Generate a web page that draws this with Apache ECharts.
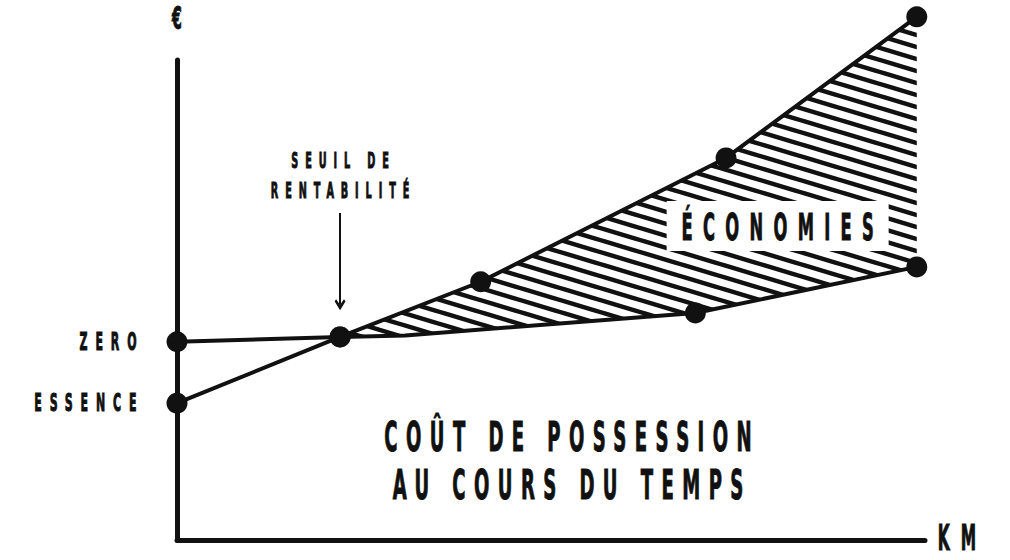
<!DOCTYPE html>
<html>
<head>
<meta charset="utf-8">
<script src="https://cdn.jsdelivr.net/npm/echarts@6/dist/echarts.min.js"></script>
<style>
html, body { margin: 0; padding: 0; background: #fff; }
#chart { width: 1010px; height: 560px; }
#chart svg text { stroke: #111; stroke-width: 1px; }
</style>
</head>
<body>
<div id="chart"></div>
<script>
// valeurs (x : km 0-100, y : € 0-100)
var seriesNames = ['ZERO', 'ESSENCE'];
var zeroX = [0, 21.8, 30.5, 69.3, 98.9];
var zeroY = [41.3, 42.3, 42.6, 47.3, 56.9];
var zeroDots = [true, true, false, true, true];
var essenceX = [0, 21.8, 40.6, 73.4, 98.9];
var essenceY = [28.5, 42.3, 53.8, 79.6, 109];
var seuilX = 21.8, seuilTop = 68.1, seuilEnd = 49.0;
var ecoPos = [80.3, 65.4];
var axisNames = ['KM', '€'];
var seuilText = 'SEUIL DE\nRENTABILITÉ';
var titleText = 'COÛT DE POSSESSION\nAU COURS DU TEMPS';
var ecoText = 'ÉCONOMIES';

var INK = '#111';
var FONT = "'Liberation Sans Narrow', 'DejaVu Sans Condensed', Roboto, sans-serif";
var SQUEEZE = 0.49;

// hachures
var hatch = document.createElement('canvas');
hatch.width = 40; hatch.height = 12;
(function () {
    var ctx = hatch.getContext('2d');
    ctx.strokeStyle = INK;
    ctx.lineWidth = 4.5;
    for (var k = -1; k <= 1; k++) {
        ctx.beginPath();
        ctx.moveTo(-4, k * 12 - 1.2);
        ctx.lineTo(44, k * 12 + 13.2);
        ctx.stroke();
    }
})();

function lineData(xs, ys, dots) {
    return xs.map(function (x, i) {
        var item = { value: [x, ys[i]] };
        if (dots && !dots[i]) item.symbol = 'none';
        if (i === 0) item.label = { show: true };
        return item;
    });
}

var chart = echarts.init(document.getElementById('chart'), null, { renderer: 'svg' });

var labelStyle = {
    show: false,
    position: 'left',
    distance: 30,
    formatter: '{a}',
    color: INK,
    fontFamily: FONT,
    fontWeight: 'bold',
    fontSize: 25
};

var option = {
    animation: false,
    backgroundColor: '#fff',
    grid: { left: 177, right: 85, top: 60, bottom: 20, outerBoundsMode: 'none' },
    xAxis: {
        type: 'value', min: 0, max: 100,
        name: axisNames[0], nameLocation: 'end', nameGap: 51,
        nameTextStyle: {
            color: INK, fontFamily: FONT, fontWeight: 'bold', fontSize: 35,
            lineHeight: 6, align: 'right', verticalAlign: 'bottom'
        },
        axisLine: { lineStyle: { color: INK, width: 5 } },
        axisTick: { show: false }, axisLabel: { show: false }, splitLine: { show: false }
    },
    yAxis: {
        type: 'value', min: 0, max: 100,
        name: axisNames[1], nameLocation: 'end', nameGap: 26,
        nameTextStyle: { color: INK, fontFamily: FONT, fontWeight: 'bold', fontSize: 32, align: 'center' },
        axisLine: { lineStyle: { color: INK, width: 5, cap: 'round' } },
        axisTick: { show: false }, axisLabel: { show: false }, splitLine: { show: false }
    },
    graphic: [{
        type: 'text', x: 568, y: 461, z: 10,
        style: {
            text: titleText, fill: INK,
            font: 'bold 41px ' + FONT, lineHeight: 48,
            align: 'center', verticalAlign: 'middle'
        }
    }],
    series: [{
        type: 'custom',
        z: 1,
        clip: false,
        silent: true,
        data: [[0, 0]],
        renderItem: function (params, api) {
            var pts = [], i;
            for (i = 1; i < essenceX.length; i++) pts.push(api.coord([essenceX[i], essenceY[i]]));
            for (i = zeroX.length - 1; i >= 1; i--) pts.push(api.coord([zeroX[i], zeroY[i]]));
            var c = api.coord(ecoPos);
            return {
                type: 'group',
                children: [{
                    type: 'polygon',
                    shape: { points: pts },
                    style: { fill: { image: hatch, repeat: 'repeat', imageWidth: 40, imageHeight: 12 }, stroke: null }
                }, {
                    type: 'rect',
                    shape: { x: c[0] - 111, y: c[1] - 25, width: 222, height: 50 },
                    style: { fill: '#fff' }
                }, {
                    type: 'text', x: c[0], y: c[1] + 1,
                    style: {
                        text: ecoText, fill: INK, font: 'bold 37px ' + FONT,
                        align: 'center', verticalAlign: 'middle'
                    }
                }]
            };
        }
    }, {
        name: seriesNames[0],
        type: 'line',
        z: 3,
        clip: false,
        symbol: 'circle', symbolSize: 21,
        itemStyle: { color: INK },
        lineStyle: { color: INK, width: 4, cap: 'round', join: 'round' },
        label: labelStyle,
        data: lineData(zeroX, zeroY, zeroDots)
    }, {
        name: seriesNames[1],
        type: 'line',
        z: 3,
        clip: false,
        symbol: 'circle', symbolSize: 21,
        itemStyle: { color: INK },
        lineStyle: { color: INK, width: 4, cap: 'round', join: 'round' },
        label: labelStyle,
        data: lineData(essenceX, essenceY),
        markLine: {
            silent: true,
            symbol: ['none', 'path://M5,0 L10,7 L8.5,8.5 L5,4 L1.5,8.5 L0,7 Z'],
            symbolSize: 11,
            lineStyle: { color: INK, width: 2, type: 'solid' },
            label: {
                show: true, position: 'start', distance: 8,
                formatter: seuilText, color: INK,
                fontFamily: FONT, fontWeight: 'bold', fontSize: 22, lineHeight: 30
            },
            data: [[{ coord: [seuilX, seuilTop] }, { coord: [seuilX, seuilEnd] }]]
        }
    }]
};

chart.setOption(option);

// lettres étroites et espacées, comme l'affiche
function stretchText() {
    var texts = document.querySelectorAll('#chart svg text');
    Array.prototype.forEach.call(texts, function (t) {
        if (t.getAttribute('data-fix')) return;
        var cs = getComputedStyle(t);
        var fs = parseFloat(cs.fontSize) || 12;
        var txt = t.textContent || '';
        var em = /COÛT|COURS/.test(txt) ? 0.42 : (txt === ecoText ? 0.57 : 0.64);
        var sp = fs * em;
        t.style.letterSpacing = sp + 'px';
        var anchor = t.getAttribute('text-anchor') || cs.textAnchor;
        var shift = anchor === 'middle' ? sp / 2 : (anchor === 'end' ? sp : 0);
        var x = parseFloat(t.getAttribute('x') || 0);
        var y = parseFloat(t.getAttribute('y') || 0);
        var tr = t.getAttribute('transform') || '';
        t.setAttribute('transform', tr + ' translate(' + x + ' ' + y + ') scale(' + SQUEEZE + ' 1) translate(' + (shift - x) + ' ' + (-y) + ')');
        t.setAttribute('data-fix', '1');
    });
}
chart.getZr().flush();
stretchText();
chart.on('finished', stretchText);
</script>
</body>
</html>
